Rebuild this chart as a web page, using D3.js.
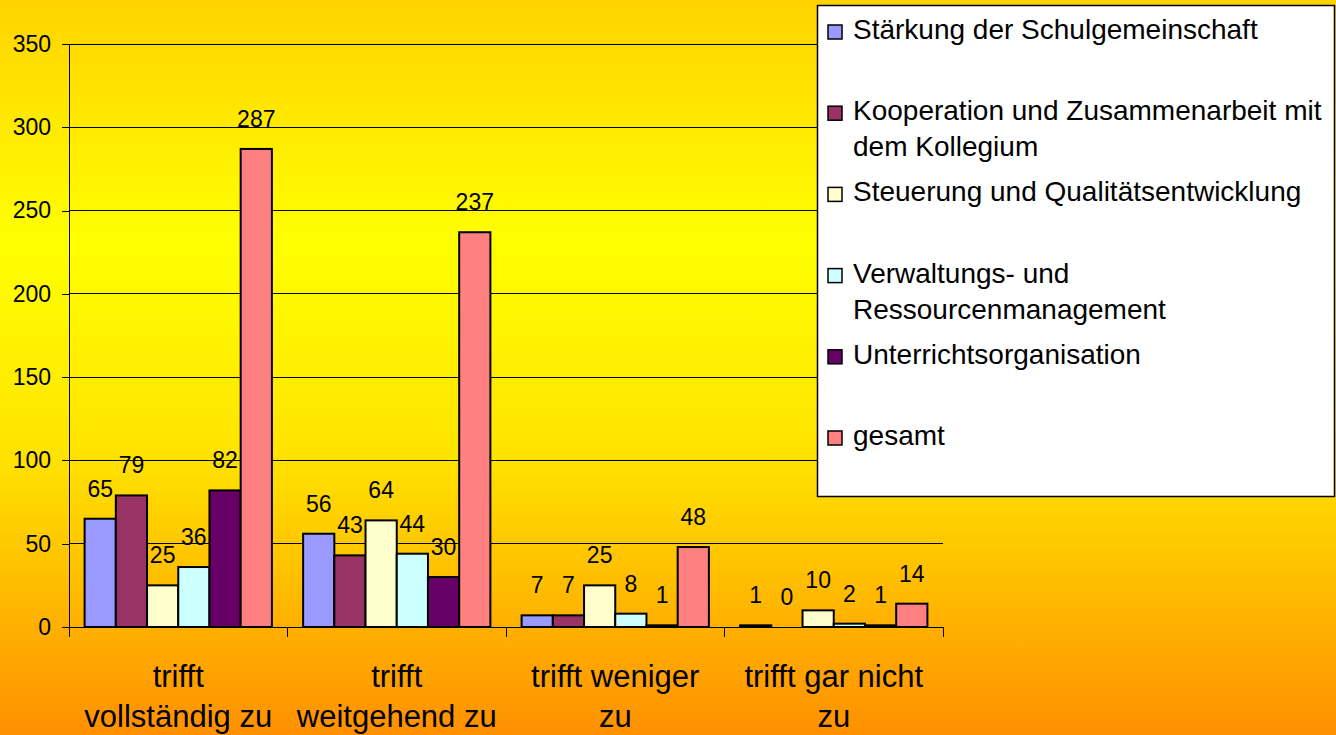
<!DOCTYPE html>
<html>
<head>
<meta charset="utf-8">
<script src="https://cdn.jsdelivr.net/npm/d3@7"></script>
<style>
  html, body { margin: 0; padding: 0; overflow: hidden; }
  svg { display: block; font-family: "Liberation Sans", Arial, sans-serif; }
</style>
</head>
<body>
<script>
// categories on the x axis
const categories = ["trifft vollständig zu", "trifft weitgehend zu", "trifft weniger zu", "trifft gar nicht zu"];

// series names (legend order)
const seriesNames = [
    "Stärkung der Schulgemeinschaft",
    "Kooperation und Zusammenarbeit mit dem Kollegium",
    "Steuerung und Qualitätsentwicklung",
    "Verwaltungs- und Ressourcenmanagement",
    "Unterrichtsorganisation",
    "gesamt"
];

// values per series, one per category
const staerkung = [65, 56, 7, 1];
const kooperation = [79, 43, 7, 0];
const steuerung = [25, 64, 25, 10];
const verwaltung = [36, 44, 8, 2];
const unterricht = [82, 30, 1, 1];
const gesamt = [287, 237, 48, 14];

const yTicks = [0, 50, 100, 150, 200, 250, 300, 350];

const seriesValues = [staerkung, kooperation, steuerung, verwaltung, unterricht, gesamt];
const colors = ["#9999ff", "#993366", "#ffffcc", "#ccffff", "#660066", "#ff8080"];

const W = 1336, H = 735;
const plot = { left: 69, right: 943, top: 44, bottom: 627 };

const svg = d3.select("body").append("svg")
    .attr("width", W)
    .attr("height", H);

// background gradient (gold -> yellow -> orange)
const grad = svg.append("defs").append("linearGradient")
    .attr("id", "bg")
    .attr("x1", 0).attr("y1", 0).attr("x2", 0).attr("y2", 1);
[[0, "#ffd300"], [0.33, "#ffff00"], [0.62, "#ffe300"], [1, "#ff9000"]].forEach(s => {
    grad.append("stop").attr("offset", s[0]).attr("stop-color", s[1]);
});
svg.append("rect")
    .attr("width", W).attr("height", H)
    .attr("fill", "url(#bg)");

const x0 = d3.scaleBand()
    .domain(categories)
    .range([plot.left, plot.right])
    .padding(0);

const x1 = d3.scaleBand()
    .domain(d3.range(seriesNames.length))
    .range([0, x0.bandwidth()])
    .paddingInner(0)
    .paddingOuter(0.5);

const y = d3.scaleLinear()
    .domain([0, 350])
    .range([plot.bottom, plot.top]);

// gridlines
svg.append("g")
    .selectAll("line")
    .data(yTicks.filter(d => d > 0))
    .join("line")
    .attr("x1", plot.left).attr("x2", plot.right)
    .attr("y1", d => y(d)).attr("y2", d => y(d))
    .attr("stroke", "#000")
    .attr("stroke-width", 1)
    .attr("shape-rendering", "crispEdges");

// y axis
const yAxis = svg.append("g")
    .attr("transform", `translate(${plot.left},0)`)
    .call(d3.axisLeft(y).tickValues(yTicks).tickSizeInner(7).tickSizeOuter(0).tickPadding(11));
yAxis.selectAll("path, line").attr("stroke", "#000").attr("shape-rendering", "crispEdges");
yAxis.selectAll("text")
    .attr("font-size", 23)
    .attr("font-family", "Liberation Sans, Arial, sans-serif")
    .attr("fill", "#000");

// bars
const groups = svg.append("g")
    .selectAll("g")
    .data(categories)
    .join("g")
    .attr("transform", d => `translate(${x0(d)},0)`);

groups.selectAll("rect")
    .data((d, ci) => seriesValues.map((vals, si) => ({ si: si, v: vals[ci] })))
    .join("rect")
    .attr("x", d => x1(d.si))
    .attr("y", d => y(d.v))
    .attr("width", x1.bandwidth())
    .attr("height", d => y(0) - y(d.v))
    .attr("fill", d => colors[d.si])
    .attr("stroke", "#000")
    .attr("stroke-width", 2);

// value labels
groups.selectAll("text")
    .data((d, ci) => seriesValues.map((vals, si) => ({ si: si, v: vals[ci] })))
    .join("text")
    .attr("x", d => x1(d.si) + x1.bandwidth() / 2)
    .attr("y", d => y(d.v) - 22)
    .attr("text-anchor", "middle")
    .attr("font-size", 23)
    .attr("fill", "#000")
    .text(d => d.v);

// x axis line + boundary ticks
svg.append("line")
    .attr("x1", plot.left).attr("x2", plot.right)
    .attr("y1", plot.bottom).attr("y2", plot.bottom)
    .attr("stroke", "#000")
    .attr("shape-rendering", "crispEdges");

const bounds = categories.map(c => x0(c)).concat([plot.right]);
svg.append("g")
    .selectAll("line")
    .data(bounds)
    .join("line")
    .attr("x1", d => d).attr("x2", d => d)
    .attr("y1", plot.bottom).attr("y2", plot.bottom + 10)
    .attr("stroke", "#000")
    .attr("shape-rendering", "crispEdges");

// wrap words into tspans no wider than maxW
function wrap(textSel, maxW, lineH) {
    textSel.each(function () {
        const t = d3.select(this);
        const words = t.text().split(" ");
        const xPos = t.attr("x");
        t.text(null);
        let line = [];
        let tspan = t.append("tspan").attr("x", xPos).attr("dy", 0);
        let n = 0;
        words.forEach(w => {
            line.push(w);
            tspan.text(line.join(" "));
            if (tspan.node().getComputedTextLength() > maxW && line.length > 1) {
                line.pop();
                tspan.text(line.join(" "));
                line = [w];
                n++;
                tspan = t.append("tspan").attr("x", xPos).attr("dy", lineH).text(w);
            }
        });
    });
}

// category labels
svg.append("g")
    .selectAll("text")
    .data(categories)
    .join("text")
    .attr("x", d => x0(d) + x0.bandwidth() / 2)
    .attr("y", 687)
    .attr("text-anchor", "middle")
    .attr("font-size", 31)
    .attr("fill", "#000")
    .text(d => d)
    .call(wrap, 200, 40);

// legend
const legend = svg.append("g");
legend.append("rect")
    .attr("x", 817.5).attr("y", 5.5)
    .attr("width", 517).attr("height", 491)
    .attr("fill", "#fff")
    .attr("stroke", "#000")
    .attr("stroke-width", 1.5);

const items = legend.selectAll("g")
    .data(seriesNames)
    .join("g")
    .attr("transform", (d, i) => `translate(0,${39 + i * 81.2})`);

items.append("rect")
    .attr("x", 828).attr("y", -14)
    .attr("width", 14).attr("height", 14)
    .attr("fill", (d, i) => colors[i])
    .attr("stroke", "#000")
    .attr("stroke-width", 1.5);

items.append("text")
    .attr("x", 853)
    .attr("y", 0)
    .attr("font-size", 28)
    .attr("fill", "#000")
    .text(d => d)
    .call(wrap, 480, 36);
</script>
</body>
</html>
